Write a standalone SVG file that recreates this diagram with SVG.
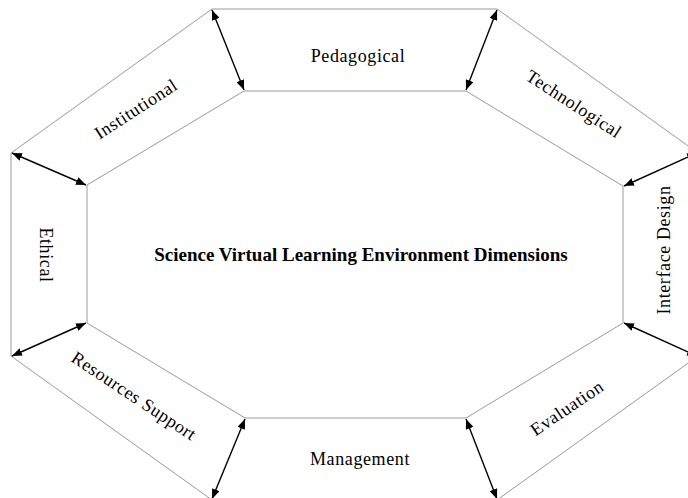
<svg xmlns="http://www.w3.org/2000/svg" width="688" height="498" viewBox="0 0 688 498">
<style>
.edge{fill:none;stroke:#9a9a9a;stroke-width:1}
.lbl{font-family:"Liberation Serif","Times New Roman",serif;font-size:18px;fill:#000;text-anchor:middle;letter-spacing:0.6px}
.title{font-family:"Liberation Serif","Times New Roman",serif;font-size:19px;font-weight:bold;fill:#000;text-anchor:middle}
.arr{stroke:#000;stroke-width:1.4;fill:none;marker-start:url(#ah);marker-end:url(#ah)}
</style>
<defs>
<marker id="ah" viewBox="0 0 10 8" refX="10" refY="4" markerWidth="10" markerHeight="8" markerUnits="userSpaceOnUse" orient="auto-start-reverse">
<path d="M0,0 L10,4 L0,8 Z" fill="#000"/>
</marker>
</defs>
<rect width="688" height="498" fill="#fff"/>
<g id="center">
<polygon class="edge" points="244,91 466,91 623,186 623,323 466,418 245,418 87,323 87,185"/>
<text class="title" x="361" y="261">Science Virtual Learning Environment Dimensions</text>
</g>
<g id="pedagogical">
<line class="edge" x1="212" y1="9" x2="497" y2="9"/>
<text class="lbl" x="358" y="62">Pedagogical</text>
</g>
<g id="technological">
<line class="edge" x1="497" y1="9" x2="698" y2="153"/>
<text class="lbl" transform="translate(574,104) rotate(33)" x="0" y="6">Technological</text>
</g>
<g id="interface-design">
<line class="edge" x1="698" y1="153" x2="698" y2="356"/>
<text class="lbl" transform="translate(664,250) rotate(-90)" x="0" y="6">Interface Design</text>
</g>
<g id="evaluation">
<line class="edge" x1="698" y1="356" x2="497" y2="500"/>
<text class="lbl" transform="translate(567,408) rotate(-34)" x="0" y="6">Evaluation</text>
</g>
<g id="management">
<line class="edge" x1="497" y1="500" x2="212" y2="500"/>
<text class="lbl" x="360" y="465">Management</text>
</g>
<g id="resources-support">
<line class="edge" x1="212" y1="500" x2="11" y2="356"/>
<text class="lbl" transform="translate(134,396) rotate(33.5)" x="0" y="6">Resources Support</text>
</g>
<g id="ethical">
<line class="edge" x1="11" y1="356" x2="11" y2="153"/>
<text class="lbl" transform="translate(46,255) rotate(90)" x="0" y="6">Ethical</text>
</g>
<g id="institutional">
<line class="edge" x1="11" y1="153" x2="212" y2="9"/>
<text class="lbl" transform="translate(136,109) rotate(-33)" x="0" y="6">Institutional</text>
</g>
<g id="connectors">
<line class="arr" x1="212" y1="10" x2="244" y2="90"/>
<line class="arr" x1="497" y1="10" x2="466" y2="90"/>
<line class="arr" x1="697" y1="153" x2="624" y2="186"/>
<line class="arr" x1="697" y1="356" x2="624" y2="323"/>
<line class="arr" x1="466" y1="419" x2="497" y2="499"/>
<line class="arr" x1="245" y1="419" x2="212" y2="499"/>
<line class="arr" x1="12" y1="356" x2="86" y2="323"/>
<line class="arr" x1="12" y1="153" x2="86" y2="185"/>
</g>
</svg>
